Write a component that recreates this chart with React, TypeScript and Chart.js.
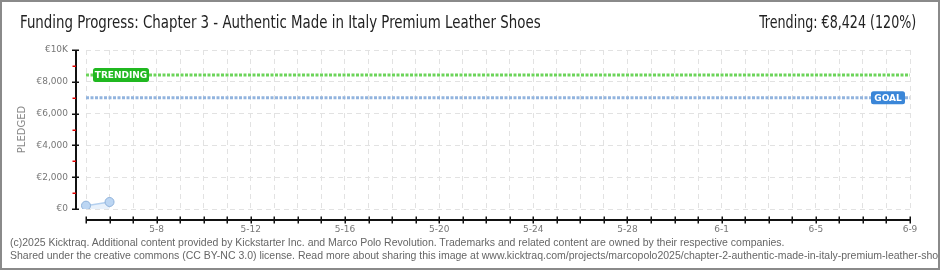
import React, { useEffect, useRef } from 'react';
import { Chart, registerables } from 'chart.js';

Chart.register(...registerables);

const dates = [
  '5-5', '5-6', '5-7', '5-8', '5-9', '5-10', '5-11', '5-12', '5-13', '5-14',
  '5-15', '5-16', '5-17', '5-18', '5-19', '5-20', '5-21', '5-22', '5-23', '5-24',
  '5-25', '5-26', '5-27', '5-28', '5-29', '5-30', '5-31', '6-1', '6-2', '6-3',
  '6-4', '6-5', '6-6', '6-7', '6-8', '6-9',
];
const shownDateLabels = ['5-8', '5-12', '5-16', '5-20', '5-24', '5-28', '6-1', '6-5', '6-9'];
const pledged = [210, 440];
const trendingValue = 8424;
const goalValue = 7000;
const yMajorTicks = [0, 2000, 4000, 6000, 8000, 10000];
const yMinorTicks = [1000, 3000, 5000, 7000, 9000];

const titleText = 'Funding Progress: Chapter 3 - Authentic Made in Italy Premium Leather Shoes';
const trendingText = 'Trending: €8,424 (120%)';
const footer1 =
  '(c)2025 Kicktraq. Additional content provided by Kickstarter Inc. and Marco Polo Revolution. Trademarks and related content are owned by their respective companies.';
const footer2 =
  'Shared under the creative commons (CC BY-NC 3.0) license. Read more about sharing this image at www.kicktraq.com/projects/marcopolo2025/chapter-2-authentic-made-in-italy-premium-leather-shoes/';

const tickFont = "'DejaVu Sans', sans-serif";

function roundRect(ctx: CanvasRenderingContext2D, x: number, y: number, w: number, h: number, r: number) {
  ctx.beginPath();
  ctx.moveTo(x + r, y);
  ctx.lineTo(x + w - r, y);
  ctx.quadraticCurveTo(x + w, y, x + w, y + r);
  ctx.lineTo(x + w, y + h - r);
  ctx.quadraticCurveTo(x + w, y + h, x + w - r, y + h);
  ctx.lineTo(x + r, y + h);
  ctx.quadraticCurveTo(x, y + h, x, y + h - r);
  ctx.lineTo(x, y + r);
  ctx.quadraticCurveTo(x, y, x + r, y);
  ctx.closePath();
}

const customAxes = {
  id: 'customAxes',
  afterDraw(chart: any) {
    const { ctx, chartArea, scales } = chart;
    const x = scales.x;
    const y = scales.y;
    const seg = (x1: number, y1: number, x2: number, y2: number) => {
      ctx.beginPath();
      ctx.moveTo(x1, y1);
      ctx.lineTo(x2, y2);
      ctx.stroke();
    };
    ctx.save();
    ctx.setLineDash([]);
    // y axis
    const ax = Math.round(chartArea.left - 10);
    ctx.strokeStyle = '#111';
    ctx.lineWidth = 2;
    seg(ax, y.getPixelForValue(10000), ax, y.getPixelForValue(0));
    ctx.lineWidth = 1.5;
    yMajorTicks.forEach((v) => {
      const py = Math.round(y.getPixelForValue(v)) + 0.25;
      seg(ax - 4, py, ax + 3, py);
    });
    ctx.strokeStyle = '#e00000';
    yMinorTicks.forEach((v) => {
      const py = Math.round(y.getPixelForValue(v)) + 0.25;
      seg(ax - 3.5, py, ax, py);
    });
    // x axis
    const ay = Math.round(chartArea.bottom + 11);
    ctx.strokeStyle = '#111';
    ctx.lineWidth = 2;
    seg(x.getPixelForValue(0), ay, x.getPixelForValue(dates.length - 1), ay);
    ctx.lineWidth = 1.5;
    dates.forEach((_, i) => {
      const px = Math.round(x.getPixelForValue(i)) + 0.25;
      seg(px, ay - 3.5, px, ay + 3.5);
    });

    // labels for the trending / goal lines
    const drawTag = (text: string, color: string, left: number, cy: number, w: number, h: number) => {
      ctx.fillStyle = color;
      roundRect(ctx, left, cy - h / 2, w, h, 2.5);
      ctx.fill();
      ctx.fillStyle = '#ffffff';
      ctx.font = "bold 9px 'DejaVu Sans', sans-serif";
      ctx.textAlign = 'center';
      ctx.textBaseline = 'middle';
      ctx.fillText(text, left + w / 2, cy + 0.5);
    };
    drawTag('TRENDING', '#20b820', chartArea.left + 7, y.getPixelForValue(trendingValue), 56, 14);
    drawTag('GOAL', '#3a86d8', chartArea.right - 39, y.getPixelForValue(goalValue), 34, 13);
    ctx.restore();
  },
};

export default function App() {
  const canvasRef = useRef<HTMLCanvasElement | null>(null);

  useEffect(() => {
    if (!canvasRef.current) return;
    const chart = new Chart(canvasRef.current, {
      type: 'line',
      data: {
        labels: dates,
        datasets: [
          {
            label: 'Pledged',
            data: dates.map((_, i) => (i < pledged.length ? pledged[i] : null)),
            borderColor: '#b4d0ef',
            backgroundColor: 'rgba(214,230,248,0.55)',
            borderWidth: 1.5,
            fill: 'origin',
            pointRadius: 4.5,
            pointBackgroundColor: '#bcd6f3',
            pointBorderColor: '#8fb2da',
            pointBorderWidth: 1,
            spanGaps: false,
            order: 1,
          },
          {
            label: 'Trending',
            data: dates.map(() => trendingValue),
            borderColor: '#6cd45a',
            borderWidth: 3,
            borderDash: [3, 1.5],
            pointRadius: 0,
            fill: false,
            order: 2,
          },
          {
            label: 'Goal',
            data: dates.map(() => goalValue),
            borderColor: '#92b4de',
            borderWidth: 3,
            borderDash: [3, 1.5],
            pointRadius: 0,
            fill: false,
            order: 3,
          },
        ],
      },
      options: {
        animation: false,
        responsive: false,
        maintainAspectRatio: false,
        layout: { padding: { top: 50, right: 30, left: 0, bottom: 0 } },
        plugins: {
          legend: { display: false },
          tooltip: { enabled: false },
        },
        scales: {
          x: {
            type: 'category',
            offset: false,
            afterFit: (s: any) => {
              s.height = 61;
            },
            grid: {
              color: '#e2e2e2',
              lineWidth: 1,
              drawTicks: false,
            },
            border: { display: false, dash: [5, 4] },
            ticks: {
              autoSkip: false,
              maxRotation: 0,
              minRotation: 0,
              padding: 15,
              color: '#777',
              font: { family: tickFont, size: 9 },
              callback: (_v: any, i: number) => (shownDateLabels.includes(dates[i]) ? dates[i] : ''),
            },
          },
          y: {
            min: 0,
            max: 10000,
            afterFit: (s: any) => {
              s.width = 86;
            },
            afterBuildTicks: (s: any) => {
              s.ticks = yMajorTicks.map((v) => ({ value: v }));
            },
            grid: {
              color: '#e2e2e2',
              lineWidth: 1,
              drawTicks: false,
            },
            border: { display: false, dash: [5, 4] },
            title: {
              display: true,
              text: 'PLEDGED',
              color: '#888',
              font: { family: tickFont, size: 10 },
              padding: { top: 16, bottom: 0 },
            },
            ticks: {
              padding: 18,
              color: '#777',
              font: { family: tickFont, size: 9 },
              callback: (v: any) => (v === 10000 ? '€10K' : '€' + Number(v).toLocaleString('en-US')),
            },
          },
        },
      },
      plugins: [customAxes],
    });
    return () => chart.destroy();
  }, []);

  const headFont = "'DejaVu Sans Condensed', 'DejaVu Sans', sans-serif";

  return (
    <div
      style={{
        position: 'fixed',
        left: 0,
        top: 0,
        width: 940,
        height: 270,
        background: '#ffffff',
        overflow: 'hidden',
      }}
    >
      <canvas ref={canvasRef} width={940} height={270} style={{ position: 'absolute', left: 0, top: 0, width: 940, height: 270 }} />
      <div
        style={{
          position: 'absolute',
          left: 20,
          top: 11,
          fontFamily: headFont,
          fontSize: 17,
          color: '#222',
          whiteSpace: 'nowrap',
          lineHeight: '22px',
          transform: 'scaleX(0.874)',
          transformOrigin: 'left center',
        }}
      >
        {titleText}
      </div>
      <div
        style={{
          position: 'absolute',
          right: 24,
          top: 11,
          fontFamily: headFont,
          fontSize: 17,
          color: '#222',
          whiteSpace: 'nowrap',
          lineHeight: '22px',
          transform: 'scaleX(0.83)',
          transformOrigin: 'right center',
        }}
      >
        {trendingText}
      </div>
      <div
        style={{
          position: 'absolute',
          left: 10,
          top: 236,
          width: 928,
          overflow: 'hidden',
          fontFamily: "'Liberation Sans', sans-serif",
          fontSize: 10.5,
          color: '#666',
          whiteSpace: 'nowrap',
          lineHeight: '13px',
        }}
      >
        <div>{footer1}</div>
        <div>{footer2}</div>
      </div>
      <div
        style={{
          position: 'absolute',
          left: 0,
          top: 0,
          width: 940,
          height: 270,
          boxSizing: 'border-box',
          border: '2px solid #8a8a8a',
          pointerEvents: 'none',
        }}
      />
    </div>
  );
}
